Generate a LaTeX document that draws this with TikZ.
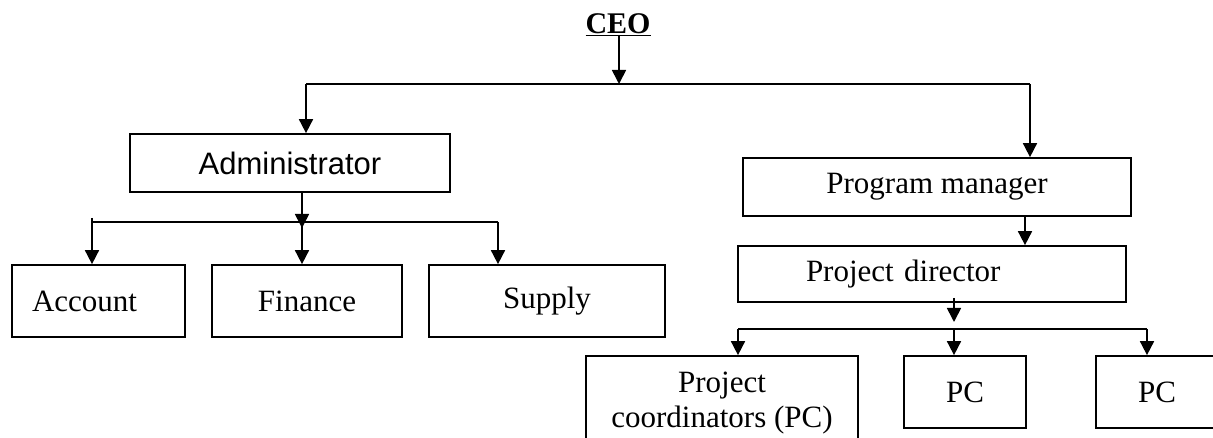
\documentclass[tikz,border=0pt]{standalone}
\usepackage{fontspec}
\setmainfont{Liberation Serif}
\newfontfamily\adminsans{Liberation Sans}
\usetikzlibrary{arrows.meta}

\begin{document}
\begin{tikzpicture}[x=1pt, y=1pt,
  box/.style={draw, line width=1.7pt, inner sep=0pt, align=center,
    font=\fontsize{31}{37}\selectfont},
  conn/.style={line width=1.7pt},
  arr/.style={line width=1.7pt, -{Triangle[width=14pt,length=14pt]}}]

  \useasboundingbox (0,0) rectangle (1213,438);
  \clip (0,0) rectangle (1213,438);

  % draw boxes
  \node[inner sep=0pt, anchor=base, font=\fontsize{30}{36}\selectfont\bfseries]
    (ceo) at (618,404) {\underline{CEO}};
  \node[box, minimum width=320pt, minimum height=58pt,
    font=\adminsans\fontsize{31}{37}\selectfont] (admin) at (290,275) {Administrator};
  \node[box, minimum height=72pt, align=left, text width=133pt, inner xsep=20pt]
    (account) at (98.5,137) {Account};
  \node[box, minimum width=190pt, minimum height=72pt] (finance) at (307,137) {Finance};
  \node[box, minimum width=236pt, minimum height=72pt] (supply) at (547,137) {Supply};
  \node[box, minimum width=388pt, minimum height=58pt] (pm) at (937,251) {Program manager};
  \node[box, minimum height=56pt, align=left, text width=252pt, inner xsep=68pt]
    (pd) at (932,164) {Project director};
  \node[box, minimum width=272pt, minimum height=95pt,
    font=\fontsize{31}{35}\selectfont] (coord) at (722,34.5)
    {Project\\coordinators (PC)};
  \node[box, minimum width=122pt, minimum height=72pt] (pc1) at (965,46) {PC};
  \node[box, minimum width=122pt, minimum height=72pt] (pc2) at (1157,46) {PC};

  % CEO to administrator and program manager
  \coordinate (topmid) at (619,354);
  \coordinate (topL) at (306,354);
  \coordinate (topR) at (1030,354);
  \draw[arr] (ceo.south -| topmid) -- (topmid);
  \draw[conn] (topL) -- (topR);
  \draw[arr] (topL) -- (topL |- admin.north);
  \draw[arr] (topR) -- (topR |- pm.north);

  % administrator to its offices
  \coordinate (abus) at (302,216);
  \coordinate (aL) at (92,216);
  \coordinate (aR) at (498,216);
  \coordinate (atick) at (92,220);
  \draw[arr] (abus |- admin.south) -- ([yshift=-6pt]abus);
  \draw[conn] (atick) -- (aL) -- (aR);
  \draw[arr] (aL) -- (aL |- account.north);
  \draw[arr] (abus) -- (abus |- finance.north);
  \draw[arr] (aR) -- (aR |- supply.north);

  % program manager to project director
  \draw[arr] ([xshift=88pt]pm.south) -- ([xshift=93pt]pd.north);

  % project director to the coordinators
  \coordinate (pdout) at (954,140);
  \coordinate (pbus) at (954,109);
  \coordinate (pL) at (738,109);
  \coordinate (pR) at (1147,109);
  \draw[arr] (pdout) -- ([yshift=7pt]pbus);
  \draw[conn] (pL) -- (pR);
  \draw[arr] (pL) -- (pL |- coord.north);
  \draw[arr] (pbus) -- (pbus |- pc1.north);
  \draw[arr] (pR) -- (pR |- pc2.north);
\end{tikzpicture}
\end{document}
